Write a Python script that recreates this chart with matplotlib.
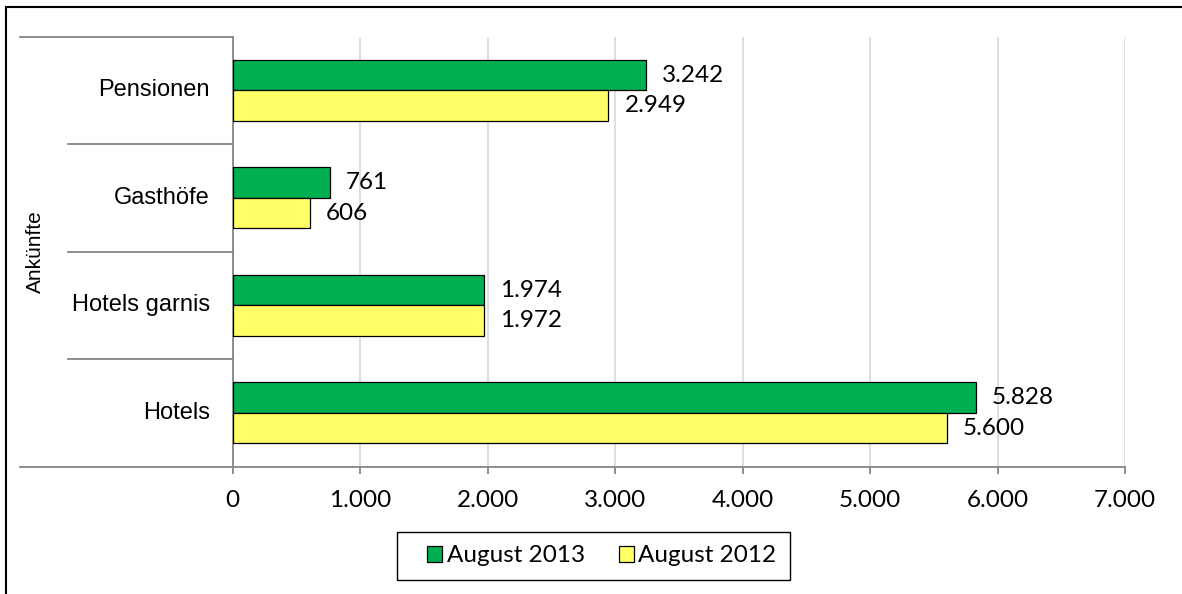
import matplotlib
matplotlib.use("Agg")
import matplotlib.pyplot as plt
from matplotlib.patches import Patch, Rectangle
from matplotlib.ticker import FuncFormatter, MultipleLocator
import matplotlib.transforms as mtransforms

categories = ["Hotels", "Hotels garnis", "Gasthöfe", "Pensionen"]
aug2013 = [5828, 1974, 761, 3242]
aug2012 = [5600, 1972, 606, 2949]
series_names = ["August 2013", "August 2012"]
group_label = "Ankünfte"

GREEN = "#00B050"
YELLOW = "#FFFF66"
W, H = 1182, 594
fig = plt.figure(figsize=(W / 100, H / 100), dpi=100)

x0, x1 = 232.5, 1125
y_top, y_bot = 36.7, 466.7
ax = fig.add_axes([x0 / W, (H - y_bot) / H, (x1 - x0) / W, (y_bot - y_top) / H])

num_font = "Lato"
cat_font = "Liberation Sans"
NUM_SIZE = 17.5

pos = list(range(len(categories)))
bh = 0.284
b1 = ax.barh([p + bh / 2 for p in pos], aug2013, height=bh, color=GREEN,
             edgecolor="black", linewidth=0.9, zorder=3)
b2 = ax.barh([p - bh / 2 for p in pos], aug2012, height=bh, color=YELLOW,
             edgecolor="black", linewidth=0.9, zorder=3)

def fmt(v, _=None):
    return f"{int(v):,}".replace(",", ".")

for bars, vals in ((b1, aug2013), (b2, aug2012)):
    for rect, v in zip(bars, vals):
        ax.annotate(fmt(v), (rect.get_width(), rect.get_y() + rect.get_height() / 2),
                    xytext=(11.5, 0), textcoords="offset points", ha="left", va="center",
                    fontsize=NUM_SIZE, family=num_font, color="black")

ax.set_xlim(0, 7000)
ax.set_ylim(-0.5, len(categories) - 0.5)
ax.xaxis.set_major_locator(MultipleLocator(1000))
ax.xaxis.set_major_formatter(FuncFormatter(fmt))
ax.grid(axis="x", color="#D9D9D9", linewidth=1.2, zorder=0)
ax.set_axisbelow(True)
for s in ("top", "right"):
    ax.spines[s].set_visible(False)
for s in ("left", "bottom"):
    ax.spines[s].set_color("#868686")
    ax.spines[s].set_linewidth(1.3)
ax.tick_params(axis="x", length=5, width=1.3, color="#868686", pad=12,
               labelsize=NUM_SIZE)
for lab in ax.get_xticklabels():
    lab.set_family(num_font)
ax.set_yticks([])

# category labels
trans = mtransforms.blended_transform_factory(ax.transAxes, ax.transData)
px = lambda xp: (xp - x0) / (x1 - x0)
for p, c in zip(pos, categories):
    ax.text(px(210), p, c, transform=trans, ha="right", va="center",
            fontsize=17, family=cat_font)
# separators
for yv in [0.5, 1.5, 2.5]:
    ax.plot([px(68), 0], [yv, yv], transform=trans, color="#868686",
            linewidth=1.3, clip_on=False)
for yv in [-0.5, len(categories) - 0.5]:
    ax.plot([px(20), 0], [yv, yv], transform=trans, color="#868686",
            linewidth=1.3, clip_on=False)
ax.text(px(35), (len(categories) - 1) / 2, group_label, transform=trans,
        rotation=90, ha="center", va="center", fontsize=15, family=cat_font)

# legend
handles = [Patch(facecolor=GREEN, edgecolor="black", linewidth=0.9),
           Patch(facecolor=YELLOW, edgecolor="black", linewidth=0.9)]
leg = fig.legend(handles, series_names, loc="center", bbox_to_anchor=(602 / W, 1 - 556 / H),
                 ncol=2, frameon=False,
                 prop={"family": num_font, "size": NUM_SIZE}, handlelength=0.6,
                 handleheight=0.6, handletextpad=0.2, columnspacing=1.4,
                 borderpad=0.0, borderaxespad=0)
fig.patches.append(Rectangle((397 / W, 1 - 580 / H), (790 - 397) / W, 48 / H,
                             transform=fig.transFigure, fill=False,
                             edgecolor="black", linewidth=1.0))

# outer border
fig.patches.append(Rectangle((6 / W, -0.1), 1.2, (H - 7) / H + 0.1,
                             transform=fig.transFigure, fill=False,
                             edgecolor="black", linewidth=1.5))

fig.savefig("out.png", dpi=100)
